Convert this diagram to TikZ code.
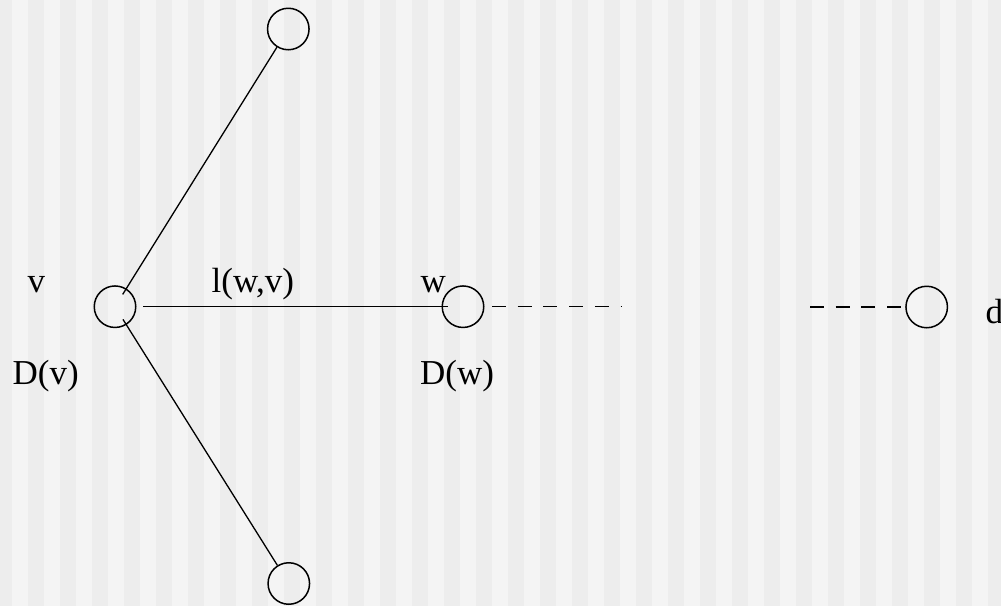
\documentclass[tikz,border=0pt]{standalone}
\usepackage{fontspec}
\setmainfont{Liberation Serif}
\usetikzlibrary{positioning}
\definecolor{stripedark}{HTML}{EDEDED}
\definecolor{stripelight}{HTML}{F4F4F4}

\begin{document}
\begin{tikzpicture}[
    x=1pt, y=-1pt,
    every node/.style={font=\fontsize{35}{40}\selectfont},
    vertex/.style={circle, draw, line width=1.5pt, minimum size=41.5pt, inner sep=0pt},
    label/.style={anchor=base west, inner sep=0pt},
    edge/.style={line width=1.3pt},
    farpath/.style={line width=1.3pt, dash pattern=on 14pt off 11.7pt}
]

% Background stripes
\useasboundingbox (0,0) rectangle (1001,606);
\begin{scope}
  \clip (0,0) rectangle (1001,606);
  \fill[stripelight] (0,0) rectangle (1001,606);
  \foreach \s in {0,...,31} {
    \fill[stripedark] ({\s*32-4},0) rectangle ({\s*32+12},606);
  }
\end{scope}

% Vertices
\node[vertex] (v) at (115,306.7) {};
\node[vertex] (top) at (288.3,29) {};
\node[vertex] (bottom) at (288.8,583.5) {};
\node[vertex] (w) at (463,306.7) {};
\node[vertex] (d) at (926.7,307) {};

% Open ends of the dashed path
\coordinate (gapL) at (622,306.7);
\coordinate (gapR) at (810,307);

% Edges
\draw[edge, shorten <=14.5pt] (v.center) -- (top);
\draw[edge, shorten <=15pt] (v.center) -- (bottom);
\draw[edge, shorten <=28pt, shorten >=15.5pt] (v.center) -- (w.center);
\draw[farpath, shorten <=7.5pt] (w) -- (gapL);
\draw[farpath] (gapR) -- (d);

% Labels
\node[label] (vname) at (27.5,292.5) {v};
\node[label] (dvname) at (12.5,384) {D(v)};
\node[label] (lname) at (211.5,292.5) {l(w,v)};
\node[label] (wname) at (420.5,292.5) {w};
\node[label] (dwname) at (420,384) {D(w)};
\node[label] (dname) at (985.5,323.3) {d};

\end{tikzpicture}
\end{document}
